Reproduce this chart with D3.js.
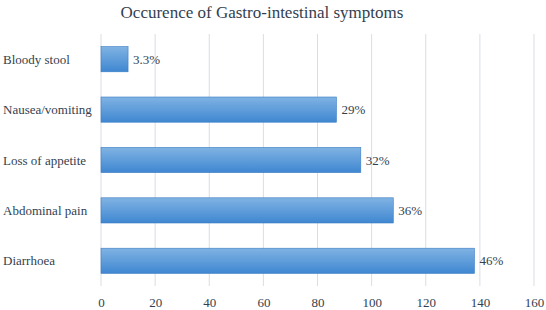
<!DOCTYPE html>
<html><head><meta charset="utf-8">
<script src="https://cdn.jsdelivr.net/npm/d3@7"></script>
<style>body{margin:0;background:#fff}svg{display:block}svg text{font-family:"Liberation Serif","Times New Roman",Tinos,serif}</style>
</head><body>
<script>
const categories = ["Bloody stool","Nausea/vomiting","Loss of appetite","Abdominal pain","Diarrhoea"];
const values = [10, 87, 96, 108, 138];
const labels = ["3.3%","29%","32%","36%","46%"];
const xTicks = [0,20,40,60,80,100,120,140,160];
const title = "Occurence of Gastro-intestinal symptoms";

const W=546,H=310;
const svg=d3.select("body").append("svg").attr("width",W).attr("height",H);
const txt="#333f4f";
const defs=svg.append("defs");
const g=defs.append("linearGradient").attr("id","bg").attr("x1",0).attr("y1",0).attr("x2",0).attr("y2",1);
g.append("stop").attr("offset","0%").attr("stop-color","#80b3e3");
g.append("stop").attr("offset","100%").attr("stop-color","#3f87d1");

const x=d3.scaleLinear().domain([0,160]).range([101,534]);
const y=d3.scaleBand().domain(categories).range([34,286]).paddingInner(0.5).paddingOuter(0.25);

svg.append("text").attr("x",262).attr("y",18).attr("text-anchor","middle")
  .attr("font-size",17).attr("fill",txt).text(title);

svg.append("g").selectAll("line").data(xTicks).join("line")
  .attr("x1",d=>x(d)).attr("x2",d=>x(d)).attr("y1",34).attr("y2",286)
  .attr("stroke","#dadde3").attr("stroke-width",1);

svg.append("g").selectAll("rect").data(values).join("rect")
  .attr("x",x(0)).attr("y",(d,i)=>y(categories[i]))
  .attr("width",d=>x(d)-x(0)).attr("height",y.bandwidth())
  .attr("fill","url(#bg)").attr("stroke","#3a7cc4").attr("stroke-width",0.6);

svg.append("g").selectAll("text").data(values).join("text")
  .attr("x",d=>x(d)+5).attr("y",(d,i)=>y(categories[i])+y.bandwidth()/2+4.5)
  .attr("font-size",13).attr("fill",txt).text((d,i)=>labels[i]);

svg.append("g").selectAll("text").data(categories).join("text")
  .attr("x",3).attr("y",d=>y(d)+y.bandwidth()/2+4.5)
  .attr("font-size",13).attr("fill",txt).text(d=>d);

const ax=svg.append("g").attr("transform","translate(0,286)")
  .call(d3.axisBottom(x).tickValues(xTicks).tickSize(0).tickPadding(12));
ax.select(".domain").remove();
ax.selectAll("text").attr("font-size",13).attr("fill",txt);
ax.attr("font-family",null);
</script>
</body></html>
